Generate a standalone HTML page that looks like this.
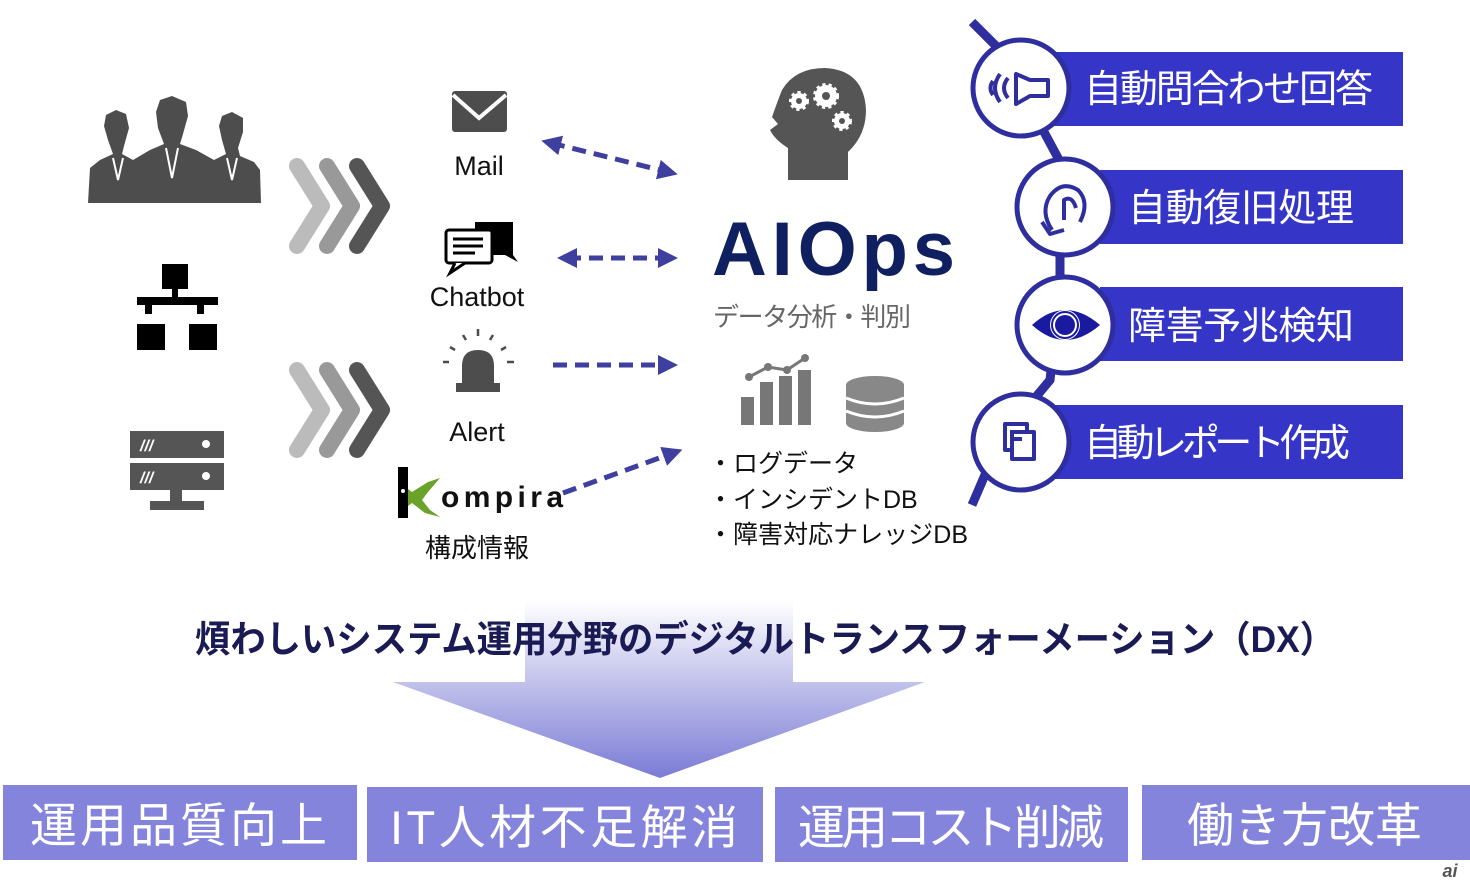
<!DOCTYPE html>
<html><head><meta charset="utf-8"><style>
html,body{margin:0;padding:0;background:#fff;width:1470px;height:885px;overflow:hidden}
text{font-family:"Liberation Sans","Noto Sans CJK JP",sans-serif}
</style></head><body>
<svg width="1470" height="885" viewBox="0 0 1470 885" xmlns="http://www.w3.org/2000/svg">
<defs>
<linearGradient id="g" gradientUnits="userSpaceOnUse" x1="0" y1="600" x2="0" y2="778">
<stop offset="0" stop-color="#ffffff"/><stop offset="1" stop-color="#7b7bd6"/></linearGradient>
<marker id="ah" markerWidth="4" markerHeight="4" refX="2" refY="2" orient="auto" markerUnits="strokeWidth"><path d="M0,0 L4,2 L0,4 z" fill="#3f3f9f"/></marker>
<marker id="at" markerWidth="4" markerHeight="4" refX="2" refY="2" orient="auto-start-reverse" markerUnits="strokeWidth"><path d="M0,0 L4,2 L0,4 z" fill="#3f3f9f"/></marker>
</defs>

<!-- people -->
<g fill="#4d4d4d">
<path d="M88,203 L90,168 L100,160 L113,154 L108,140 L104,126 L106,115 L116,110 L126,114 L129,128 L124,146 L122,154 L133,160 L150,150 L164,144 L158,128 L156,112 L160,100 L172,96 L186,102 L188,116 L183,134 L180,144 L196,150 L214,160 L226,154 L222,140 L219,126 L222,116 L232,112 L243,118 L243,132 L238,148 L240,156 L254,162 L260,170 L261,203 Z"/>
</g>
<g stroke="#fff" stroke-width="2" fill="none"><path d="M113,158 L118,180 L123,158 M166,148 L172,178 L178,148 M227,158 L232,180 L237,158"/></g>

<!-- network -->
<g fill="#000">
<rect x="162" y="264" width="26" height="25"/>
<rect x="172" y="288" width="6" height="10"/>
<rect x="137" y="297" width="81" height="8"/>
<rect x="145" y="304" width="7" height="10"/><rect x="197" y="304" width="7" height="10"/>
<rect x="137" y="324" width="28" height="26"/><rect x="189" y="324" width="28" height="26"/>
</g>

<!-- server -->
<g fill="#555">
<rect x="130" y="431" width="94" height="27"/><rect x="130" y="463" width="94" height="27"/>
<rect x="170" y="490" width="12" height="12"/><rect x="150" y="501" width="54" height="9"/>
</g>
<g fill="#fff"><circle cx="206" cy="444" r="4"/><circle cx="206" cy="476" r="4"/>
<text x="140" y="451" font-size="16" font-weight="bold" font-style="italic" fill="#fff">///</text>
<text x="140" y="483" font-size="16" font-weight="bold" font-style="italic" fill="#fff">///</text></g>

<!-- chevrons -->
<g fill="none" stroke-width="16" stroke-linecap="round" stroke-linejoin="round">
<path d="M297,166 L322,206 L297,246" stroke="#bbb"/>
<path d="M327,166 L352,206 L327,246" stroke="#999"/>
<path d="M357,166 L382,206 L357,246" stroke="#555"/>
<path d="M297,370 L322,410 L297,450" stroke="#bbb"/>
<path d="M327,370 L352,410 L327,450" stroke="#999"/>
<path d="M357,370 L382,410 L357,450" stroke="#555"/>
</g>

<!-- mail -->
<rect x="452" y="91" width="55" height="41" rx="3" fill="#4d4d4d"/>
<path d="M453,95 L479,118 L506,95" stroke="#fff" stroke-width="4" fill="none"/>
<text x="479" y="175" font-size="27" text-anchor="middle" fill="#111">Mail</text>

<!-- chatbot -->
<path d="M475,222 L513,222 L513,255 L518,262 L505,255 L475,255 Z" fill="#000"/>
<rect x="446" y="230" width="46" height="33" rx="3" fill="#fff" stroke="#000" stroke-width="3"/>
<path d="M455,263 L450,273 L465,263" fill="#fff" stroke="#000" stroke-width="3"/>
<g stroke="#000" stroke-width="3"><line x1="453" y1="239" x2="483" y2="239"/><line x1="453" y1="246" x2="483" y2="246"/><line x1="453" y1="253" x2="475" y2="253"/></g>
<text x="477" y="306" font-size="27" text-anchor="middle" fill="#111">Chatbot</text>

<!-- alert -->
<path d="M462,388 L462,366 Q462,350 478,350 Q494,350 494,366 L494,388 Z" fill="#4d4d4d"/>
<rect x="456" y="383" width="44" height="9" fill="#4d4d4d"/>
<g stroke="#4d4d4d" stroke-width="2.5"><line x1="478" y1="329" x2="478" y2="336"/><line x1="463" y1="335" x2="466" y2="340"/><line x1="493" y1="335" x2="490" y2="340"/><line x1="450" y1="347" x2="455" y2="350"/><line x1="506" y1="347" x2="501" y2="350"/><line x1="443" y1="362" x2="449" y2="362"/><line x1="507" y1="362" x2="514" y2="362"/></g>
<text x="477" y="441" font-size="27" text-anchor="middle" fill="#111">Alert</text>

<!-- kompira -->
<path d="M400,483 L412,492 L428,482 L440,478 L428,492 L422,500 L430,510 L440,517 L425,513 L412,503 L400,512 Z" fill="#6aa32a"/>
<rect x="398" y="467" width="10" height="51" fill="#000"/>
<circle cx="403" cy="491" r="2" fill="#fff"/>
<text x="441" y="507" font-size="30" font-family="Liberation Mono" font-weight="bold" fill="#111" textLength="122">ompira</text>
<text x="477" y="557" font-size="26" text-anchor="middle" fill="#111">構成情報</text>

<!-- dashed arrows -->
<g stroke="#3f3f9f" stroke-width="5" stroke-dasharray="14,8" fill="none">
<line x1="551" y1="143" x2="668" y2="172" marker-start="url(#at)" marker-end="url(#ah)"/>
<line x1="567" y1="258" x2="668" y2="258" marker-start="url(#at)" marker-end="url(#ah)"/>
<line x1="553" y1="365" x2="668" y2="365" marker-end="url(#ah)"/>
<line x1="563" y1="493" x2="673" y2="453" marker-end="url(#ah)"/>
</g>

<!-- head -->
<path d="M788,180 L788,148 Q775,140 770,130 L778,124 L772,117 Q778,100 782,90 Q795,68 825,68 Q864,70 866,110 Q866,135 848,152 L848,180 Z" fill="#555"/>
<g fill="#fff" stroke="#fff" stroke-width="4" stroke-dasharray="3,3"><circle cx="799" cy="101" r="8"/><circle cx="826" cy="96" r="11"/><circle cx="842" cy="121" r="8"/></g>
<g fill="#555"><circle cx="799" cy="101" r="3"/><circle cx="826" cy="96" r="4"/><circle cx="842" cy="121" r="3"/></g>

<text x="712" y="275" font-size="76" font-weight="bold" fill="#0f1f5f" textLength="243">AIOps</text>
<text x="713" y="326" font-size="26" fill="#666" textLength="198">データ分析・判別</text>

<!-- chart -->
<g fill="#777"><rect x="741" y="397" width="13" height="28"/><rect x="760" y="382" width="13" height="43"/><rect x="779" y="376" width="13" height="49"/><rect x="798" y="370" width="13" height="55"/></g>
<polyline points="749,377 768,367 787,370 805,358" stroke="#777" stroke-width="3" fill="none"/>
<g fill="#777"><circle cx="749" cy="377" r="4"/><circle cx="768" cy="367" r="4"/><circle cx="787" cy="370" r="4"/><circle cx="805" cy="358" r="4"/></g>
<!-- db -->
<g fill="#888"><ellipse cx="875" cy="385" rx="29" ry="9"/><rect x="846" y="385" width="58" height="38"/><ellipse cx="875" cy="423" rx="29" ry="9"/></g>
<g stroke="#fff" stroke-width="3" fill="none"><path d="M846,398 Q875,410 904,398"/><path d="M846,411 Q875,423 904,411"/></g>

<g font-size="25" fill="#111">
<text x="708" y="472">・ログデータ</text>
<text x="708" y="508">・インシデントDB</text>
<text x="708" y="543" textLength="260">・障害対応ナレッジDB</text>
</g>

<!-- right timeline -->
<path d="M972,22 L1000,50 L1058,158 L1060,220 L1060,290 L1050,380 L1000,440 L972,505" stroke="#2e2e9e" stroke-width="9" fill="none"/>
<g fill="#3535c8">
<rect x="1040" y="52" width="363" height="74"/>
<rect x="1100" y="170" width="303" height="74"/>
<rect x="1100" y="287" width="303" height="74"/>
<rect x="1040" y="405" width="363" height="74"/>
</g>
<g fill="#fff" stroke="#2e2e9e" stroke-width="5">
<circle cx="1021" cy="88" r="48"/><circle cx="1065" cy="207" r="48"/><circle cx="1065" cy="325" r="48"/><circle cx="1021" cy="442" r="48"/>
</g>
<g stroke="#2e2e9e" stroke-width="4" fill="none" stroke-linejoin="round">
<path d="M1016,74 L1016,104 L1030,96 L1048,96 L1048,80 L1030,80 Z"/>
<path d="M1008,78 Q1000,88 1008,98"/><path d="M1000,74 Q990,88 1000,102"/><path d="M993,81 Q988,88 993,95"/>
<path d="M1052,230 Q1040,212 1050,196 Q1062,180 1078,190 Q1090,202 1080,222"/>
<path d="M1064,220 L1064,200 Q1072,195 1076,208"/>
<path d="M1042,222 L1050,234 L1064,230"/>
<rect x="1005" y="424" width="22" height="26"/><rect x="1012" y="432" width="22" height="27" fill="#fff"/>
<line x1="1010" y1="432" x2="1022" y2="432"/><line x1="1010" y1="439" x2="1022" y2="439"/>
</g>
<path d="M1032,325 Q1065,295 1100,325 Q1065,355 1032,325 Z" fill="#1a1aa0"/>
<circle cx="1065" cy="325" r="15" fill="#fff"/><circle cx="1065" cy="325" r="10" fill="#1a1aa0"/>
<circle cx="1065" cy="325" r="13" fill="none" stroke="#1a1aa0" stroke-width="2"/>

<g font-size="38" fill="#fff">
<text x="1084" y="102" textLength="289">自動問合わせ回答</text>
<text x="1128" y="221" textLength="226">自動復旧処理</text>
<text x="1128" y="339" textLength="226">障害予兆検知</text>
<text x="1084" y="456" textLength="266">自動レポート作成</text>
</g>

<!-- big arrow -->
<polygon points="525,590 793,590 793,682 925,682 660,778 393,682 525,682" fill="url(#g)"/>
<text x="195" y="652" font-size="37" font-weight="bold" fill="#1a1a55" textLength="1140" lengthAdjust="spacingAndGlyphs">煩わしいシステム運用分野のデジタルトランスフォーメーション（DX）</text>

<!-- bottom boxes -->
<g fill="#8484dc">
<rect x="3" y="785" width="354" height="75"/>
<rect x="367" y="787" width="396" height="75"/>
<rect x="775" y="787" width="353" height="75"/>
<rect x="1142" y="785" width="328" height="75"/>
</g>
<g font-size="47" fill="#fff">
<text x="30" y="842" textLength="297">運用品質向上</text>
<text x="390" y="844" textLength="348">IT人材不足解消</text>
<text x="798" y="844" textLength="306">運用コスト削減</text>
<text x="1187" y="842" textLength="235">働き方改革</text>
</g>
<text x="1450" y="877" font-size="18" font-style="italic" font-weight="bold" fill="#555" text-anchor="middle">ai</text>
</svg>
</body></html>
